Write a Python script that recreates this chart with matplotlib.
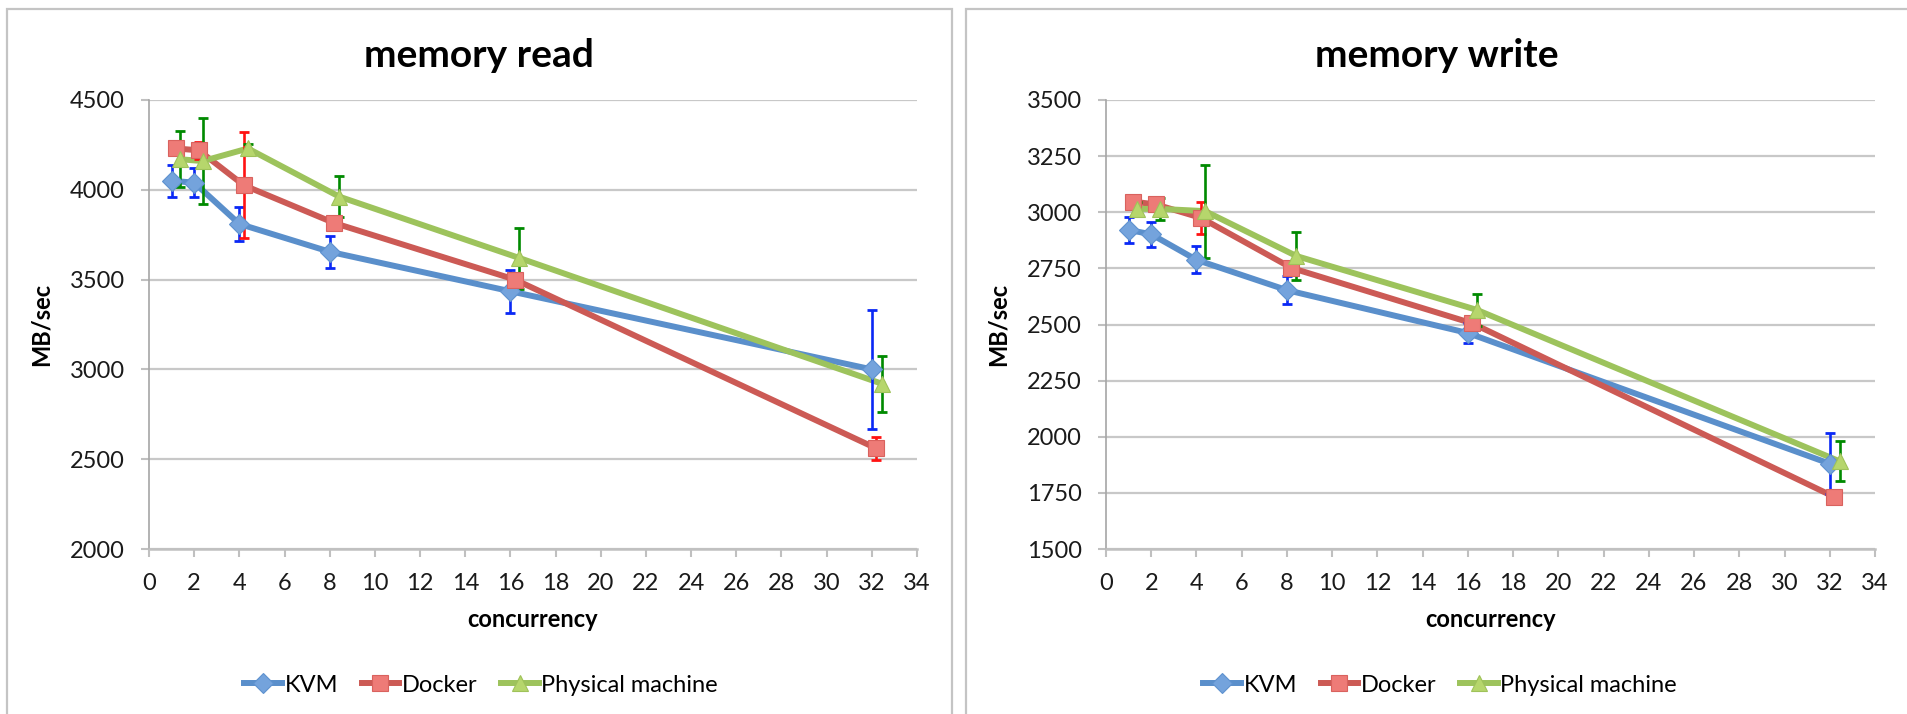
import matplotlib.pyplot as plt
from matplotlib.patches import Rectangle
from matplotlib.lines import Line2D

plt.rcParams['font.family'] = ['Lato', 'DejaVu Sans']

# concurrency (Excel offsets each series a little along x)
x_kvm = [1, 2, 4, 8, 16, 32]
x_docker = [1.2, 2.2, 4.2, 8.2, 16.2, 32.2]
x_phys = [1.38, 2.38, 4.38, 8.42, 16.4, 32.45]

# memory read (MB/sec)
read_kvm = [4050, 4040, 3810, 3655, 3435, 3000]
read_kvm_err = [88, 80, 95, 90, 120, 330]
read_docker = [4230, 4220, 4025, 3815, 3500, 2560]
read_docker_err = [25, 47, 295, 25, 30, 63]
read_phys = [4170, 4160, 4230, 3962, 3620, 2920]
read_phys_err = [157, 237, 25, 115, 170, 155]

# memory write (MB/sec)
write_kvm = [2921, 2902, 2788, 2653, 2462, 1880]
write_kvm_err = [57, 56, 60, 62, 45, 137]
write_docker = [3047, 3035, 2975, 2752, 2505, 1732]
write_docker_err = [20, 20, 70, 30, 20, 25]
write_phys = [3015, 3015, 3005, 2805, 2565, 1890]
write_phys_err = [30, 50, 207, 109, 70, 89]

names = ['KVM', 'Docker', 'Physical machine']
line_colors = ['#5A8FCB', '#CC5A55', '#9DC35C']
marker_fill = ['#74A3DC', '#EE7B77', '#B6D66C']
marker_edge = ['#5E92CF', '#D9625E', '#9FC25A']
err_colors = ['#0A28F5', '#FF1212', '#008A00']
markers = ['D', 's', '^']
msizes = [10, 11.5, 12]

W, H = 1907, 714
fig = plt.figure(figsize=(W / 100, H / 100), dpi=100)

# panel frames
for x0, x1 in [(7, 952), (966, 1920)]:
    fig.patches.append(Rectangle((x0 / W, -0.1), (x1 - x0) / W, 1.1 - 9 / H,
                                 transform=fig.transFigure, fill=False,
                                 edgecolor='#c4c4c4', linewidth=1.6))


def draw(ax, series, ylim, yticks, title, title_x, leg_x):
    xs = [x_kvm, x_docker, x_phys]
    handles = []
    for i, (y, e) in enumerate(series):
        ax.plot(xs[i], y, '-', color=line_colors[i], linewidth=4.3, zorder=2)
        ax.errorbar(xs[i], y, yerr=e, fmt='none', ecolor=err_colors[i],
                    elinewidth=1.9, capsize=3.3, capthick=2.0, zorder=2.5)
        ax.plot(xs[i], y, linestyle='none', marker=markers[i], markersize=msizes[i],
                markerfacecolor=marker_fill[i], markeredgecolor=marker_edge[i],
                markeredgewidth=0.8, zorder=3)
        handles.append(Line2D([], [], color=line_colors[i], linewidth=4.3,
                              marker=markers[i], markersize=msizes[i],
                              markerfacecolor=marker_fill[i],
                              markeredgecolor=marker_edge[i], markeredgewidth=0.8,
                              label=names[i]))
    ax.set_xlim(0, 34)
    ax.set_ylim(*ylim)
    ax.set_xticks(range(0, 35, 2))
    ax.set_yticks(yticks)
    ax.grid(axis='y', color='#c8c8c8', linewidth=1.6)
    ax.set_axisbelow(True)
    for s in ['top', 'right']:
        ax.spines[s].set_visible(False)
    ax.spines['left'].set_color('#a6a6a6')
    ax.spines['left'].set_linewidth(1.2)
    ax.spines['bottom'].set_color('#c0c0c0')
    ax.spines['bottom'].set_linewidth(1.8)
    ax.tick_params(axis='both', direction='out', length=5.5, width=1.5,
                   color='#c0c0c0', labelsize=17, labelcolor='#1a1a1a', pad=12)
    ax.set_ylabel('MB/sec', fontsize=17, fontweight='bold', labelpad=12)
    ax.set_xlabel('concurrency', fontsize=17, fontweight='bold', labelpad=10)
    fig.text(title_x, 1 - 67 / H, title, fontsize=28, fontweight='bold',
             ha='center', va='baseline')
    fig.legend(handles=handles, loc='center', bbox_to_anchor=(leg_x, 1 - 685 / H),
               ncol=3, frameon=False, fontsize=17, handlelength=1.6,
               handletextpad=0.1, columnspacing=1.0)


ax1 = fig.add_axes([149 / W, 1 - 549 / H, 768 / W, 449 / H])
draw(ax1, [(read_kvm, read_kvm_err), (read_docker, read_docker_err),
           (read_phys, read_phys_err)],
     (2000, 4500), range(2000, 4501, 500), 'memory read', 479 / W, 481 / W)

ax2 = fig.add_axes([1106 / W, 1 - 549 / H, 769 / W, 449 / H])
draw(ax2, [(write_kvm, write_kvm_err), (write_docker, write_docker_err),
           (write_phys, write_phys_err)],
     (1500, 3500), range(1500, 3501, 250), 'memory write', 1437 / W, 1440 / W)

fig.savefig('out.png', dpi=100)
